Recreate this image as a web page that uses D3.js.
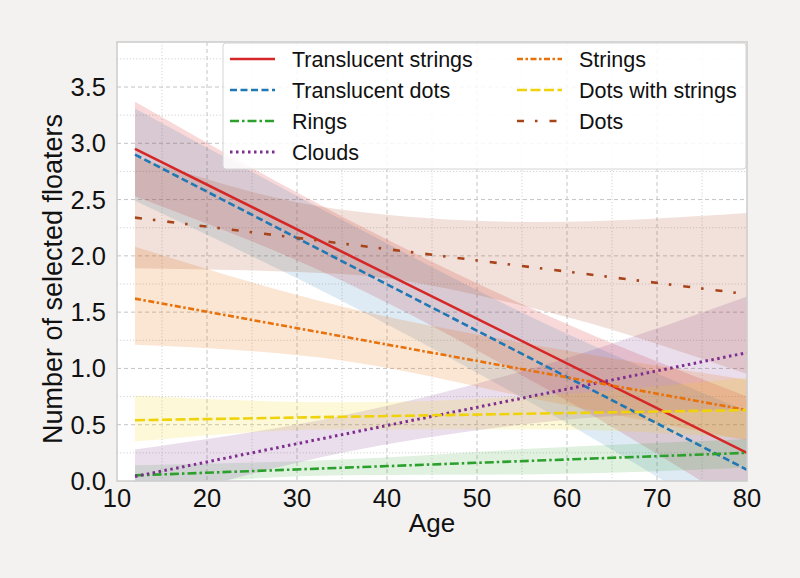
<!DOCTYPE html>
<html>
<head>
<meta charset="utf-8">
<script src="https://cdn.jsdelivr.net/npm/d3@7"></script>
<style>
  body { margin: 0; background: #f3f2f0; }
  svg { display: block; font-family: "Liberation Sans", Arial, sans-serif; }
</style>
</head>
<body>
<svg id="chart" width="800" height="578"></svg>
<script>
// series, in legend order
const seriesNames = ["Translucent strings", "Translucent dots", "Rings", "Clouds",
                     "Strings", "Dots with strings", "Dots"];
const seriesColors = ["#d62728", "#1f77b4", "#2ca02c", "#7e2f8e", "#e8710a", "#f0d20a", "#a8441a"];
const seriesDash = [null, "7,3.5", "9,3,2.5,3", "2.5,3.5", "6,2.5,2.5,2.5", "10,3.5", "7,11,2.5,12"];

// fitted lines, value at first and last age
const lineAges = [12, 80];
const lineStart = [2.95, 2.90, 0.05, 0.04, 1.62, 0.54, 2.34];
const lineEnd   = [0.25, 0.10, 0.25, 1.14, 0.63, 0.63, 1.66];

// confidence bands read at a few ages
const bandAges = [12, 35, 57, 80];
const bandLower = [
  [2.53, 1.78, 0.85, -0.25],
  [2.49, 1.60, 0.65, -0.45],
  [-0.05, 0.05, 0.06, 0.12],
  [-0.22, 0.25, 0.52, 0.64],
  [1.21, 1.07, 0.72, 0.36],
  [0.35, 0.46, 0.46, 0.38],
  [1.89, 1.84, 1.52, 0.95]
];
const bandUpper = [
  [3.37, 2.35, 1.50, 0.75],
  [3.31, 2.32, 1.42, 0.62],
  [0.14, 0.19, 0.29, 0.37],
  [0.28, 0.58, 1.02, 1.64],
  [2.08, 1.55, 1.20, 0.90],
  [0.76, 0.70, 0.76, 0.92],
  [2.88, 2.41, 2.30, 2.38]
];
const bandOpacity = [0.18, 0.15, 0.15, 0.16, 0.18, 0.16, 0.16];

const xTicks = [10, 20, 30, 40, 50, 60, 70, 80];
const yTicks = [0, 0.5, 1, 1.5, 2, 2.5, 3, 3.5];

const svg = d3.select("#chart");
const plotL = 117, plotR = 747, plotT = 42, plotB = 481;

const x = d3.scaleLinear().domain([10, 80]).range([plotL, plotR]);
const y = d3.scaleLinear().domain([0, 3.9]).range([plotB, plotT]);

svg.append("defs").append("clipPath").attr("id", "plotClip")
  .append("rect").attr("x", plotL).attr("y", plotT)
  .attr("width", plotR - plotL).attr("height", plotB - plotT);

svg.append("rect")
  .attr("x", plotL).attr("y", plotT)
  .attr("width", plotR - plotL).attr("height", plotB - plotT)
  .attr("fill", "#fff");

// grid: dashed major, dotted minor
const grid = svg.append("g");
d3.range(15, 80, 10).forEach(v => {
  grid.append("line").attr("x1", x(v)).attr("x2", x(v)).attr("y1", plotT).attr("y2", plotB)
    .attr("stroke", "#d2d2d2").attr("stroke-dasharray", "1.2,2");
});
d3.range(0.25, 3.9, 0.5).forEach(v => {
  grid.append("line").attr("x1", plotL).attr("x2", plotR).attr("y1", y(v)).attr("y2", y(v))
    .attr("stroke", "#d2d2d2").attr("stroke-dasharray", "1.2,2");
});
xTicks.slice(1, -1).forEach(v => {
  grid.append("line").attr("x1", x(v)).attr("x2", x(v)).attr("y1", plotT).attr("y2", plotB)
    .attr("stroke", "#c4c4c4").attr("stroke-dasharray", "4,3");
});
yTicks.slice(1).forEach(v => {
  grid.append("line").attr("x1", plotL).attr("x2", plotR).attr("y1", y(v)).attr("y2", y(v))
    .attr("stroke", "#c4c4c4").attr("stroke-dasharray", "4,3");
});

const plot = svg.append("g").attr("clip-path", "url(#plotClip)");

// bands
const area = d3.area()
  .x(d => x(d.age))
  .y0(d => y(d.lo))
  .y1(d => y(d.hi))
  .curve(d3.curveMonotoneX);

seriesNames.forEach((name, i) => {
  const pts = bandAges.map((a, j) => ({ age: a, lo: bandLower[i][j], hi: bandUpper[i][j] }));
  plot.append("path")
    .attr("d", area(pts))
    .attr("fill", seriesColors[i])
    .attr("fill-opacity", bandOpacity[i]);
});

// fitted lines
const line = d3.line().x(d => x(d[0])).y(d => y(d[1]));
seriesNames.forEach((name, i) => {
  plot.append("path")
    .attr("d", line([[lineAges[0], lineStart[i]], [lineAges[1], lineEnd[i]]]))
    .attr("fill", "none")
    .attr("stroke", seriesColors[i])
    .attr("stroke-width", i === 3 ? 3 : 2.6)
    .attr("stroke-dasharray", seriesDash[i]);
});

// frame
svg.append("rect")
  .attr("x", plotL).attr("y", plotT)
  .attr("width", plotR - plotL).attr("height", plotB - plotT)
  .attr("fill", "none").attr("stroke", "#cccccc").attr("stroke-width", 1.5);

// tick labels
svg.append("g").selectAll("text").data(xTicks).enter().append("text")
  .attr("x", d => x(d)).attr("y", 507)
  .attr("text-anchor", "middle")
  .attr("font-size", 25.5).attr("fill", "#111")
  .text(d => d);

svg.append("g").selectAll("text").data(yTicks).enter().append("text")
  .attr("x", 106).attr("y", d => y(d) + 9)
  .attr("text-anchor", "end")
  .attr("font-size", 25.5).attr("fill", "#111")
  .text(d => d.toFixed(1));

svg.append("text")
  .attr("x", (plotL + plotR) / 2).attr("y", 532)
  .attr("text-anchor", "middle").attr("font-size", 26).attr("fill", "#111")
  .text("Age");

svg.append("text")
  .attr("transform", "translate(62,279) rotate(-90)")
  .attr("text-anchor", "middle").attr("font-size", 27).attr("fill", "#111")
  .text("Number of selected floaters");

// legend
const legend = svg.append("g");
legend.append("rect")
  .attr("x", 223).attr("y", 43).attr("width", 523).attr("height", 126)
  .attr("rx", 3)
  .attr("fill", "#fff").attr("fill-opacity", 0.85)
  .attr("stroke", "#d4d4d4").attr("stroke-width", 1);

seriesNames.forEach((name, i) => {
  const col = i < 4 ? 0 : 1;
  const row = i < 4 ? i : i - 4;
  const lx = col === 0 ? 230 : 517;
  const tx = col === 0 ? 292 : 579;
  const ly = 59 + row * 31;
  legend.append("line")
    .attr("x1", lx).attr("x2", lx + 45).attr("y1", ly).attr("y2", ly)
    .attr("stroke", seriesColors[i])
    .attr("stroke-width", i === 3 ? 3 : 2.6)
    .attr("stroke-dasharray", seriesDash[i]);
  legend.append("text")
    .attr("x", tx).attr("y", ly + 8)
    .attr("font-size", 21.5).attr("fill", "#111")
    .text(name);
});
</script>
</body>
</html>
